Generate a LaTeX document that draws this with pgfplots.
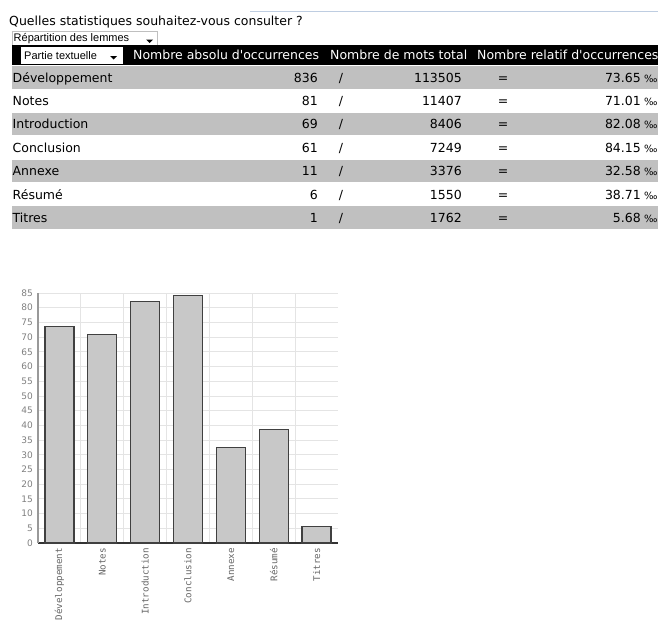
\documentclass[border=0pt]{standalone}
\usepackage{fontspec}
\setmainfont{DejaVu Sans}
\newfontfamily\verd{DejaVu Sans}
\newfontfamily\arialf{Liberation Sans}
\newfontfamily\monof{DejaVu Sans Mono}
\usepackage{pgfplots}
\pgfplotsset{compat=1.18}
\definecolor{rowgray}{RGB}{192,192,192}
\definecolor{barfill}{RGB}{200,200,200}
\definecolor{gridc}{RGB}{228,228,228}
\definecolor{topline}{RGB}{190,205,225}
\newcommand{\apos}{{\verd\char"0027}}

\begin{document}
\begin{tikzpicture}
\path[use as bounding box] (0,0) rectangle (658bp,-628bp);
\begin{scope}[x=1bp,y=-1bp, every node/.style={inner sep=0pt}]
  \fill[white] (0,0) rectangle (658,628);
  \draw[topline] (250,11.5) -- (658,11.5);
  \node[anchor=base west, font=\fontsize{12.5bp}{15bp}\selectfont] at (9,25.5)
    {Quelles statistiques souhaitez-vous consulter ?};
  % dropdown
  \draw[black!25, fill=white] (12,31) rectangle (157,45);
  \node[anchor=base west, font=\arialf\fontsize{11bp}{13bp}\selectfont] at (13.5,41.5) {Répartition des lemmes};
  \fill[black] (146,39.5) -- (153,39.5) -- (149.5,43) -- cycle;
  % header
  \fill[black] (12,45) rectangle (658,65);
  \fill[white] (21,47) rectangle (123,63.5);
  \node[anchor=base west, font=\arialf\fontsize{11bp}{13bp}\selectfont] at (24,59) {Partie textuelle};
  \fill[black] (110,56) -- (117,56) -- (113.5,59.5) -- cycle;
  \begin{scope}[every node/.append style={anchor=base west, text=white, font=\fontsize{12.5bp}{15bp}\selectfont}]
    \node at (133,59.5) {Nombre absolu d\apos occurrences};
    \node at (330,59.5) {Nombre de mots total};
    \node at (477,59.5) {Nombre relatif d\apos occurrences};
  \end{scope}
  % rows
  \foreach \i in {0,2,4,6} {
    \fill[rowgray] (12,{66+23.4*\i}) rectangle (658,{88.5+23.4*\i});
  }
  \foreach \i/\name/\a/\b/\r in {0/Développement/836/113505/73.65, 1/Notes/81/11407/71.01,
      2/Introduction/69/8406/82.08, 3/Conclusion/61/7249/84.15, 4/Annexe/11/3376/32.58,
      5/Résumé/6/1550/38.71, 6/Titres/1/1762/5.68} {
    \begin{scope}[every node/.append style={font=\fontsize{12.5bp}{15bp}\selectfont}]
      \node[anchor=base west] at (12.5,{82+23.4*\i}) {\name};
      \node[anchor=base east] at (318,{82+23.4*\i}) {\a};
      \node[anchor=base] at (341,{82+23.4*\i}) {/};
      \node[anchor=base east] at (462,{82+23.4*\i}) {\b};
      \node[anchor=base] at (503,{82+23.4*\i}) {=};
      \node[anchor=base east] at (641,{82+23.4*\i}) {\r};
      \node[anchor=base west, font=\fontsize{10bp}{12bp}\selectfont] at (644,{82+23.4*\i}) {‰};
    \end{scope}
  }
\end{scope}
\begin{axis}[
  at={(38bp,-543bp)}, anchor=south west,
  scale only axis, width=300bp, height=250bp,
  xmin=-0.5, xmax=6.5, ymin=0, ymax=85,
  ybar, bar width=29bp,
  xtick={0,...,6},
  xticklabels={Développement,Notes,Introduction,Conclusion,Annexe,Résumé,Titres},
  minor xtick={0.5,1.5,...,5.5},
  ytick={0,5,...,85},
  ymajorgrids, xminorgrids,
  grid style={gridc, line width=0.8bp},
  minor grid style={gridc, line width=0.8bp},
  axis x line*=bottom, axis y line*=left,
  x axis line style={-, black!80, line width=1.3bp},
  y axis line style={-, black!40, line width=2bp},
  major tick length=0pt, minor tick length=0pt,
  /pgf/number format/assume math mode=true,
  yticklabel style={font=\fontsize{9bp}{10bp}\selectfont, text=black!50, inner sep=0pt, xshift=-5bp},
  xticklabel style={font=\monof\fontsize{9.2bp}{10bp}\selectfont, text=black!60, inner sep=0pt, yshift=-5bp, rotate=90, anchor=east},
]
\addplot[fill=barfill, draw=black!75, line width=1.3bp] coordinates {
  (0,73.65) (1,71.01) (2,82.08) (3,84.15) (4,32.58) (5,38.71) (6,5.68)
};
\end{axis}
\end{tikzpicture}
\end{document}
